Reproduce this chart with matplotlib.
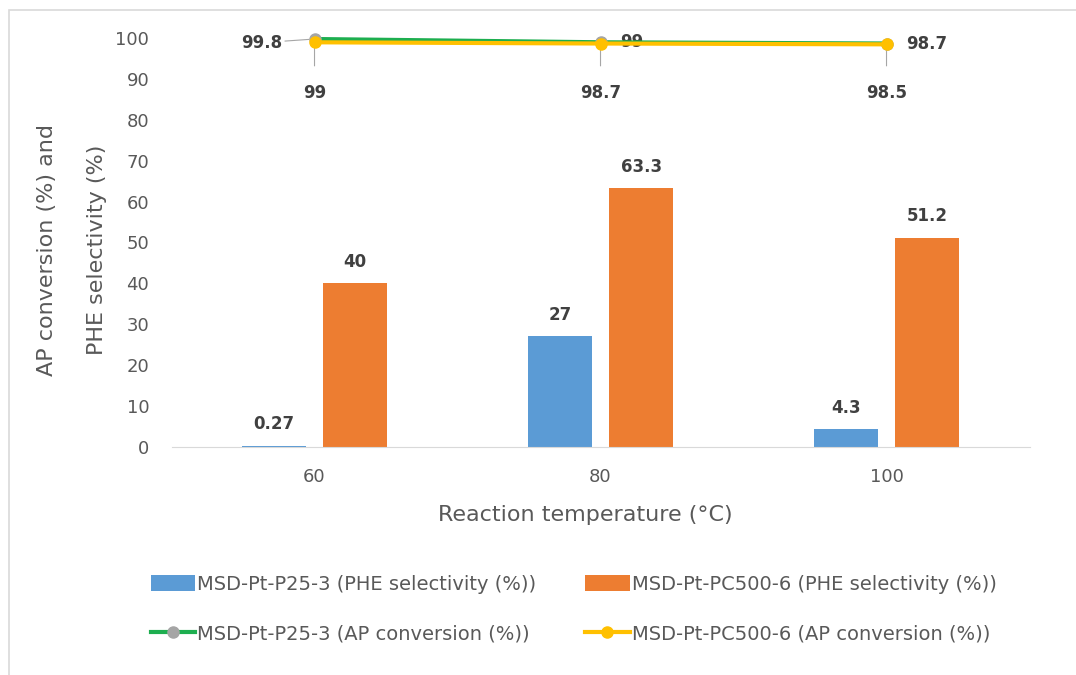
import numpy as np
import matplotlib.pyplot as plt
from matplotlib.patches import Rectangle

plt.rcParams['font.family'] = ['DejaVu Sans']

# data
temps = ['60', '80', '100']
sel_p25 = [0.27, 27, 4.3]
sel_pc500 = [40, 63.3, 51.2]
conv_p25 = [99.8, 99, 98.7]
conv_pc500 = [99, 98.7, 98.5]
sel_p25_lbl = ['0.27', '27', '4.3']
sel_pc500_lbl = ['40', '63.3', '51.2']
conv_p25_lbl = ['99.8', '99', '98.7']
conv_pc500_lbl = ['99', '98.7', '98.5']

txt_col = '#595959'
lbl_col = '#404040'

fig = plt.figure(figsize=(10.76, 6.75), dpi=100)
ax = fig.add_axes([0.1594, 0.3382, 0.7974, 0.6052])

x = np.arange(len(temps))
w = 0.224
off = 0.142
b1 = ax.bar(x - off, sel_p25, w, color='#5B9BD5', label='MSD-Pt-P25-3 (PHE selectivity (%))')
b2 = ax.bar(x + off, sel_pc500, w, color='#ED7D31', label='MSD-Pt-PC500-6 (PHE selectivity (%))')
l1, = ax.plot(x, conv_p25, '-o', color='#1DAE4F', lw=3, ms=8, mfc='#A5A5A5', mec='#A5A5A5',
              clip_on=False, zorder=4, label='MSD-Pt-P25-3 (AP conversion (%))')
l2, = ax.plot(x, conv_pc500, '-o', color='#FFC000', lw=3, ms=8, mfc='#FFC000', mec='#FFC000',
              clip_on=False, zorder=5, label='MSD-Pt-PC500-6 (AP conversion (%))')

# bar labels
for xi, v, s in zip(x - off, sel_p25, sel_p25_lbl):
    ax.annotate(s, (xi, v), xytext=(0, 9), textcoords='offset points', ha='center',
                va='bottom', fontsize=12, fontweight='bold', color=lbl_col)
for xi, v, s in zip(x + off, sel_pc500, sel_pc500_lbl):
    ax.annotate(s, (xi, v), xytext=(0, 9), textcoords='offset points', ha='center',
                va='bottom', fontsize=12, fontweight='bold', color=lbl_col)

# line labels (P25-3)
lead = dict(arrowstyle='-', color='#A6A6A6', lw=0.8, shrinkA=0, shrinkB=4)
ax.annotate(conv_p25_lbl[0], (x[0], conv_p25[0]), xytext=(-0.185, 98.9), ha='center', va='center',
            fontsize=12, fontweight='bold', color=lbl_col, arrowprops=lead, annotation_clip=False)
ax.annotate(conv_p25_lbl[1], (x[1], conv_p25[1]), xytext=(14, 0), textcoords='offset points',
            ha='left', va='center', fontsize=12, fontweight='bold', color=lbl_col, annotation_clip=False)
ax.annotate(conv_p25_lbl[2], (x[2], conv_p25[2]), xytext=(14, -0.5), textcoords='offset points',
            ha='left', va='center', fontsize=12, fontweight='bold', color=lbl_col, annotation_clip=False)
# line labels (PC500-6)
for xi, v, s in zip(x, conv_pc500, conv_pc500_lbl):
    ax.annotate(s, (xi, v), xytext=(xi, 86.6), ha='center', va='center', fontsize=12,
                fontweight='bold', color=lbl_col, arrowprops=dict(arrowstyle='-', color='#A6A6A6', lw=0.8,
                shrinkA=11, shrinkB=0), annotation_clip=False)

ax.set_xlim(-0.5, 2.5)
ax.set_ylim(0, 100)
ax.set_yticks(np.arange(0, 101, 10))
ax.set_xticks(x)
ax.set_xticklabels(temps)
ax.tick_params(axis='both', length=0, labelsize=13, labelcolor=txt_col)
ax.tick_params(axis='y', pad=16)
ax.tick_params(axis='x', pad=15)
for s in ['left', 'right', 'top']:
    ax.spines[s].set_visible(False)
ax.spines['bottom'].set_color('#D9D9D9')
ax.set_xlabel('Reaction temperature (°C)', fontsize=16, color=txt_col, labelpad=14)
ax.xaxis.label.set_x(0.482)

fig.text(47 / 1076, 1 - 250 / 675, 'AP conversion (%) and', rotation=90, ha='center', va='center',
         fontsize=16, color=txt_col)
fig.text(97 / 1076, 1 - 250 / 675, 'PHE selectivity (%)', rotation=90, ha='center', va='center',
         fontsize=16, color=txt_col)

leg = fig.legend([b1, l1, b2, l2], [b1.get_label(), l1.get_label(), b2.get_label(), l2.get_label()],
                 ncol=2, loc='upper left', bbox_to_anchor=(133 / 1076, 1 - 557 / 675), frameon=False,
                 fontsize=14, labelspacing=1.6, handlelength=2.3, handleheight=0.9,
                 handletextpad=0.1, columnspacing=2.5)
for t in leg.get_texts():
    t.set_color(txt_col)

# light frame around figure
fig.patches.append(Rectangle((9 / 1076, -0.1), 1.2, 1 - 10 / 675 + 0.1, transform=fig.transFigure,
                             fill=False, ec='#D9D9D9', lw=1.2))

fig.savefig('out.png', dpi=100)
